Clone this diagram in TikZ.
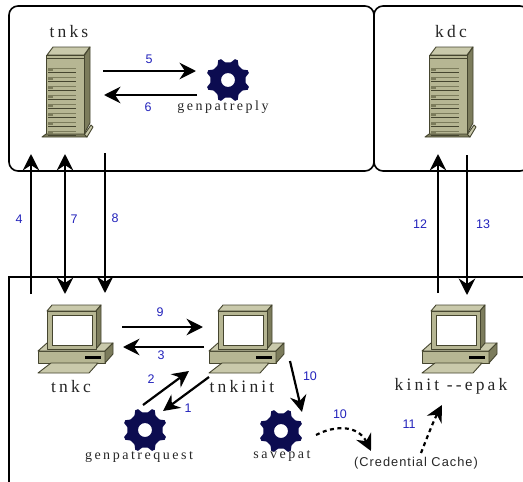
\documentclass[tikz,border=0pt]{standalone}
\usepackage{fontspec}
\usetikzlibrary{arrows.meta}
\newfontfamily\hostfont[LetterSpace=18]{Liberation Serif}
\newfontfamily\numfont{Liberation Sans}
\newfontfamily\cachefont[LetterSpace=8]{Liberation Sans}
\definecolor{bodyc}{HTML}{B6B693}
\definecolor{topc}{HTML}{C9C9AB}
\definecolor{sidec}{HTML}{7C7C5C}
\definecolor{edgec}{HTML}{45452F}
\definecolor{gearc}{HTML}{0C0C50}
\definecolor{numc}{HTML}{2222BB}
\tikzset{
  x=1pt,y=-1pt,
  tipa/.tip={Stealth[length=16.5pt,width=16.5pt,inset=5.5pt]},
  frame/.style={draw=black,line width=1.6pt,rounded corners=9pt},
  conn/.style={draw=black,line width=2.2pt,-tipa},
  dashconn/.style={conn,dash pattern=on 4pt off 3.5pt},
  num/.style={font=\numfont\fontsize{12.5}{14}\selectfont,text=numc,inner sep=0pt},
  host/.style={font=\hostfont\fontsize{17.5}{20}\selectfont,text=black!85,inner sep=0pt},
  small/.style={font=\hostfont\fontsize{14}{16}\selectfont,text=black!85,inner sep=0pt},
  cache/.style={font=\cachefont\fontsize{12.8}{15}\selectfont,text=black!85,inner sep=0pt},
  part/.style={draw=edgec,line width=0.9pt,line join=round},
  pics/server/.style={code={
    \filldraw[part,fill=topc] (1,-1)--(7,-9)--(44,-9)--(38,-1)--cycle;
    \filldraw[part,fill=sidec] (38,0)--(44,-9)--(44,67)--(38,78)--cycle;
    \filldraw[part,fill=topc] (38,79)--(45,69)--(47,71)--(41,81)--cycle;
    \filldraw[part,fill=bodyc] (0,-1) rectangle (38,79);
    \draw[edgec,line width=0.9pt] (0,2)--(38,2);
    \filldraw[part,fill=sidec] (-4,81)--(0,78)--(38,78)--(41,81)--cycle;
    \foreach \i in {0,...,7}{
      \draw[sidec,line width=1pt] (2,{12+\i*9})--(30,{12+\i*9});
      \draw[edgec,line width=0.7pt] (2,{16.5+\i*9})--(30,{16.5+\i*9});
      \draw[sidec,line width=1.5pt] (2,{14+\i*9})--(7,{14+\i*9});
    }
  }},
  pics/computer/.style={code={
    \filldraw[part,fill=bodyc] (-9,40) rectangle (58,52);
    \filldraw[part,fill=topc] (-9,40)--(0,32)--(66,32)--(58,40)--cycle;
    \filldraw[part,fill=sidec] (58,40)--(66,32)--(66,43)--(58,52)--cycle;
    \fill[black] (38,45) rectangle (54,47.5);
    \filldraw[part,fill=topc] (-9,62)--(4,52)--(51,52)--(42,62)--cycle;
    \filldraw[part,fill=topc] (0,0)--(5,-6)--(54,-6)--(49,0)--cycle;
    \filldraw[part,fill=sidec] (49,0)--(54,-6)--(54,32)--(49,38)--cycle;
    \filldraw[part,fill=bodyc] (0,0) rectangle (49,38);
    \filldraw[draw=edgec,line width=0.8pt,fill=white] (5,4) rectangle (45,34);
  }},
  pics/gear/.style={code={
    \fill[gearc,even odd rule] (18:22)
      \foreach \a in {22.5,67.5,...,337.5}{
        -- ({\a-4}:22) -- ({\a+4}:22) -- ({\a+13}:18) -- ({\a+22.5}:17.5) -- ({\a+32}:18)
      } -- cycle
      (0,0) circle[radius=7];
  }}
}
\begin{document}
\begin{tikzpicture}
\useasboundingbox (0,0) rectangle (523,482);
\clip (0,0) rectangle (523,482);
% frames
\draw[frame] (9,6) rectangle (374,171);
\draw[frame] (374,6) rectangle (529,171);
\draw[frame,rounded corners=0pt] (9,490) -- (9,277) -- (530,277);
% icons
\pic at (46,56) {server};
\pic at (429,56) {server};
\pic at (47,311) {computer};
\pic at (218,311) {computer};
\pic at (431,311) {computer};
\pic at (228,80) {gear};
\pic at (145,430) {gear};
\pic at (281,431) {gear};
% texts
\node[host] (tnksl) at (69,32) {tnks};
\node[host] (kdcl) at (451,32) {kdc};
\node[host] (tnkcl) at (71,387) {tnkc};
\node[host] (tnkinitl) at (242,387) {tnkinit};
\node[host] (kinitl) at (451,386) {kinit --epak};
\node[small] (replyl) at (223,107) {genpatreply};
\node[small] (reql) at (139,457) {genpatrequest};
\node[small] (savel) at (282,456) {savepat};
\node[cache] (cachel) at (416,463) {(Credential Cache)};
% connector ends
\coordinate (a5) at (103,71); \coordinate (b5) at (196,71);
\coordinate (a6) at (197,95); \coordinate (b6) at (104,95);
\coordinate (a4) at (31,294); \coordinate (b4) at (31,154);
\coordinate (a7) at (65,154); \coordinate (b7) at (65,294);
\coordinate (a8) at (105,153); \coordinate (b8) at (105,293);
\coordinate (a12) at (438,293); \coordinate (b12) at (438,154);
\coordinate (a13) at (467,155); \coordinate (b13) at (467,295);
\coordinate (a9) at (122,327); \coordinate (b9) at (203,327);
\coordinate (a3) at (204,347); \coordinate (b3) at (123,347);
\coordinate (a2) at (143,405); \coordinate (b2) at (189,371);
\coordinate (a1) at (209,377); \coordinate (b1) at (163,411);
\coordinate (a10) at (290,361); \coordinate (b10) at (302,412);
\coordinate (c10) at (316,435); \coordinate (d10) at (371,451);
\coordinate (a11) at (421,453); \coordinate (b11) at (442,405);
% connectors
\draw[conn] (a5) -- (b5);
\draw[conn] (a6) -- (b6);
\draw[conn] (a4) -- (b4);
\draw[conn,tipa-tipa] (a7) -- (b7);
\draw[conn] (a8) -- (b8);
\draw[conn] (a12) -- (b12);
\draw[conn] (a13) -- (b13);
\draw[conn] (a9) -- (b9);
\draw[conn] (a3) -- (b3);
\draw[conn] (a2) -- (b2);
\draw[conn] (a1) -- (b1);
\draw[conn] (a10) -- (b10);
\draw[dashconn] (c10) .. controls (335,425) and (358,425) .. (d10);
\draw[dashconn] (a11) .. controls (428,435) and (434,420) .. (b11);
% numbers
\node[num] (n5) at (149,59) {5};
\node[num] (n6) at (148,107) {6};
\node[num] (n4) at (19,219) {4};
\node[num] (n7) at (74,219) {7};
\node[num] (n8) at (115,218) {8};
\node[num] (n12) at (420,224) {12};
\node[num] (n13) at (483,224) {13};
\node[num] (n9) at (160,312) {9};
\node[num] (n3) at (161,355) {3};
\node[num] (n2) at (151,379) {2};
\node[num] (n1) at (188,408) {1};
\node[num] (n10a) at (310,376) {10};
\node[num] (n10b) at (340,414) {10};
\node[num] (n11) at (409,424) {11};
\end{tikzpicture}
\end{document}
